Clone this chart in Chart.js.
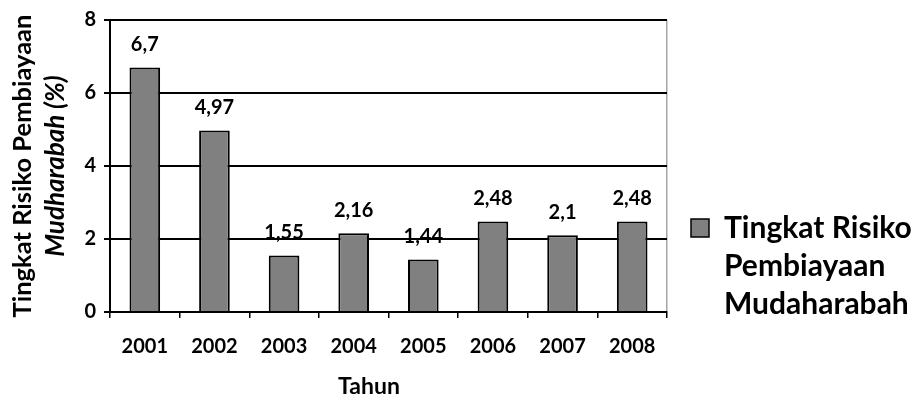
<!DOCTYPE html>
<html>
<head>
<meta charset="utf-8">
<title>Tingkat Risiko Pembiayaan Mudharabah</title>
<script src="https://cdn.jsdelivr.net/npm/chart.js@4.4.0/dist/chart.umd.min.js"></script>
<style>
  html, body { margin: 0; padding: 0; background: #fff; }
  #wrap { width: 917px; height: 398px; }
</style>
</head>
<body>
<div id="wrap"><canvas id="chart"></canvas></div>
<script>
  // Data
  const years = ['2001', '2002', '2003', '2004', '2005', '2006', '2007', '2008'];
  const risiko = [6.7, 4.97, 1.55, 2.16, 1.44, 2.48, 2.1, 2.48];
  const yTicks = [0, 2, 4, 6, 8];
  const seriesLabel = ['Tingkat Risiko', 'Pembiayaan', 'Mudaharabah'];
  const yTitleTop = 'Tingkat Risiko Pembiayaan';
  const yTitleSub = 'Mudharabah (%)';
  const xTitle = 'Tahun';

  Chart.defaults.font.family = 'Lato';
  Chart.defaults.color = '#000';

  // values above the bars, comma as decimal mark
  const barValueLabels = {
    id: 'barValueLabels',
    afterDatasetsDraw(chart) {
      const ctx = chart.ctx;
      const meta = chart.getDatasetMeta(0);
      ctx.save();
      ctx.font = 'bold 20px Lato';
      ctx.fillStyle = '#000';
      ctx.textAlign = 'center';
      ctx.textBaseline = 'middle';
      meta.data.forEach((bar, i) => {
        ctx.fillText(String(risiko[i]).replace('.', ','), bar.x, bar.y - 23);
      });
      ctx.restore();
    }
  };

  const boldFont = (size, extra) => Object.assign({ size: size, weight: 'bold' }, extra || {});

  new Chart(document.getElementById('chart'), {
    type: 'bar',
    data: {
      labels: years,
      datasets: [{
        label: seriesLabel.join(' '),
        data: risiko,
        backgroundColor: '#808080',
        borderColor: '#000',
        borderWidth: 2,
        categoryPercentage: 1,
        barPercentage: 0.44
      }]
    },
    options: {
      responsive: true,
      maintainAspectRatio: false,
      animation: false,
      layout: { padding: { top: 18, right: 0, left: 0, bottom: 0 } },
      plugins: {
        tooltip: { enabled: false },
        legend: {
          position: 'right',
          align: 'start',
          maxWidth: 250,
          title: { display: true, text: '', font: { size: 1, lineHeight: 1 }, padding: { top: 170, bottom: 0 } },
          labels: {
            boxWidth: 18,
            boxHeight: 18,
            padding: 24,
            color: '#000',
            font: boldFont(30, { lineHeight: 1.27 }),
            generateLabels(chart) {
              return Chart.defaults.plugins.legend.labels.generateLabels(chart)
                .map(item => Object.assign(item, { text: seriesLabel, lineWidth: 1.5 }));
            }
          }
        }
      },
      scales: {
        x: {
          grid: {
            offset: true,
            drawOnChartArea: true,
            color: c => (c.tick ? 'rgba(0,0,0,0)' : '#a6a6a6'),
            tickColor: '#000',
            tickLength: 6,
            tickWidth: 1.5,
            lineWidth: 1.5
          },
          border: { color: '#000', width: 2 },
          ticks: { font: boldFont(20), color: '#000', padding: 17 },
          title: {
            display: true,
            text: xTitle + '       ',
            font: boldFont(23, { lineHeight: 1 }),
            padding: 0,
            color: '#000'
          },
          afterFit(scale) { scale.height = 86; }
        },
        y: {
          min: yTicks[0],
          max: yTicks[yTicks.length - 1],
          ticks: { stepSize: 2, font: boldFont(20), padding: 8, color: '#000' },
          grid: { color: '#000', lineWidth: 2, tickLength: 6 },
          border: { color: '#000', width: 2 },
          title: {
            display: true,
            text: yTitleSub,
            font: boldFont(26, { style: 'italic' }),
            padding: { top: 2, bottom: 0 },
            color: '#000'
          },
          afterFit(scale) { scale.width = 72; }
        },
        yOuter: {
          axis: 'y',
          position: 'left',
          weight: 1,
          display: true,
          grid: { display: false },
          border: { display: false },
          ticks: { display: false },
          title: {
            display: true,
            text: yTitleTop,
            font: boldFont(25.5),
            padding: { top: 7, bottom: 0 },
            color: '#000'
          },
          afterFit(scale) { scale.width = 38; }
        }
      }
    },
    plugins: [barValueLabels]
  });
</script>
</body>
</html>
